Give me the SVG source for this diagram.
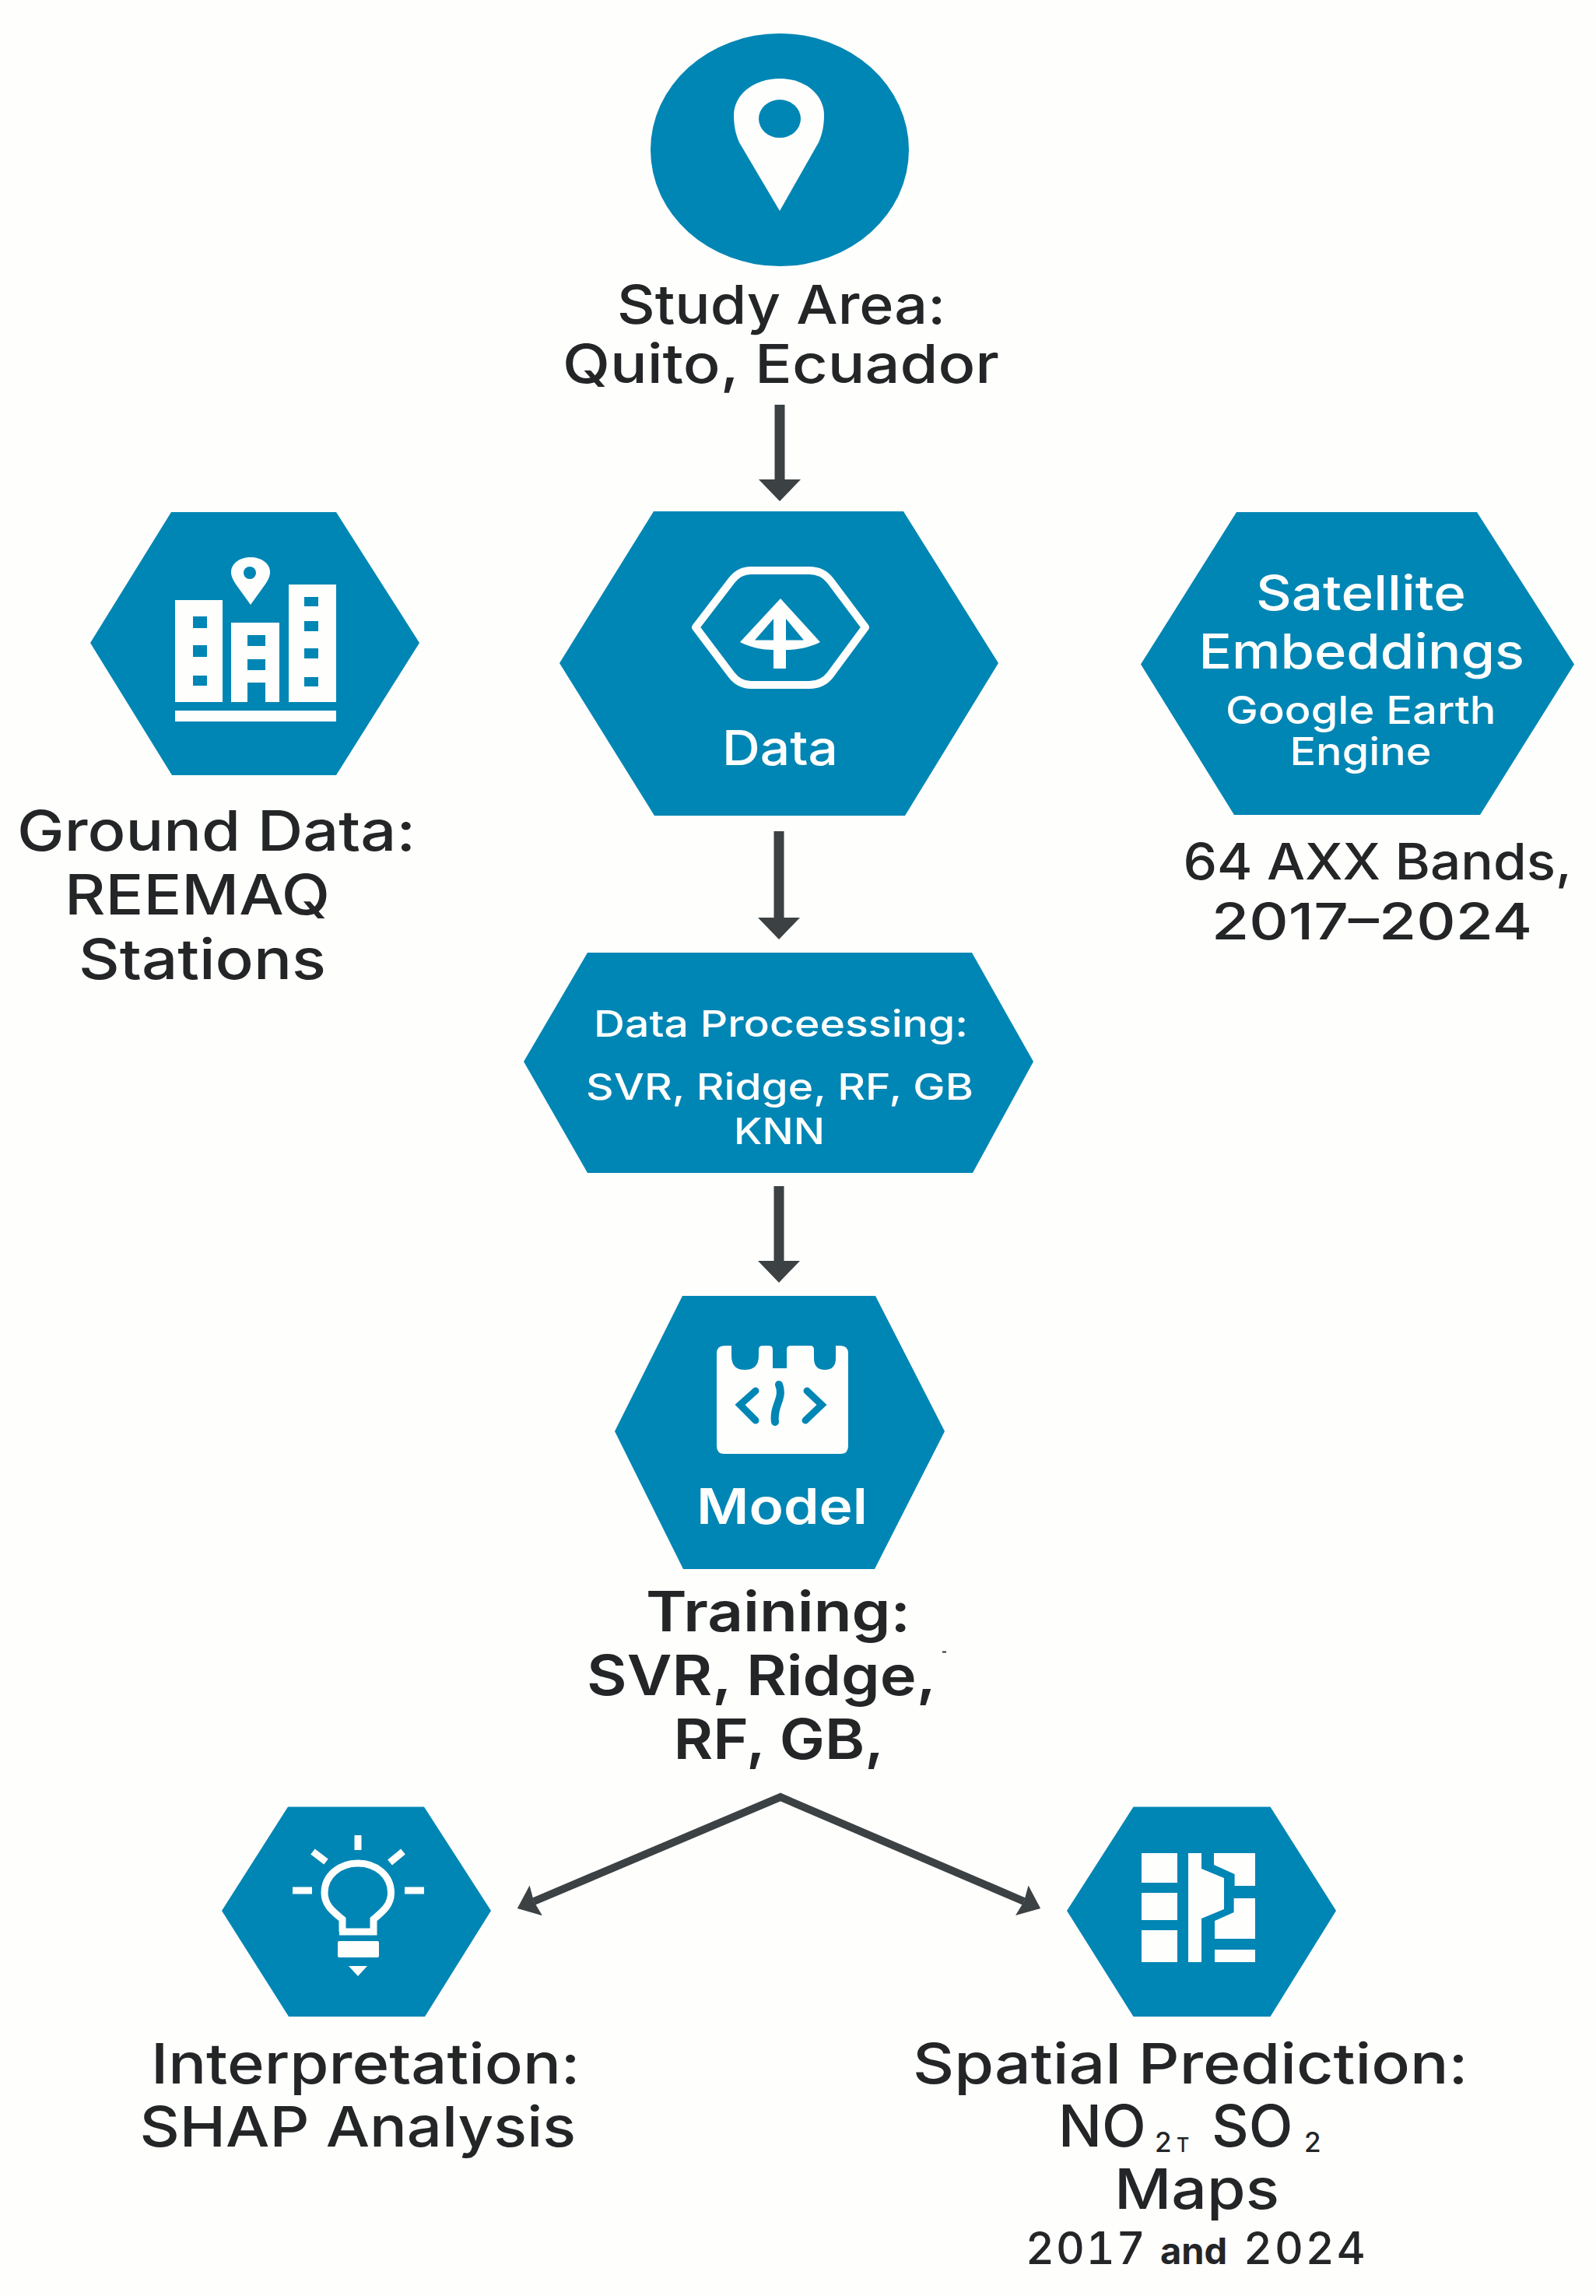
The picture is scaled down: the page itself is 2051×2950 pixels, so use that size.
<svg xmlns="http://www.w3.org/2000/svg" width="2051" height="2950" viewBox="0 0 2051 2950">
<style>
.h{fill:#0086b4}
.w{fill:#fefefd}
.ws{fill:none;stroke:#fefefd}
.bs{fill:none;stroke:#0086b4}
.t{font-family:Inter,"Liberation Sans",sans-serif;font-weight:545;fill:#232526}
.l{font-family:Inter,"Liberation Sans",sans-serif;font-weight:545;fill:#fefefd}
.b{font-weight:610}
.c{fill:none;stroke:#3c4143}
</style>
<defs>
<marker id="down" markerUnits="userSpaceOnUse" markerWidth="28" markerHeight="54" viewBox="0 0 28 54" refX="0" refY="27" orient="auto"><path d="M0 0L28 27L0 54Z" fill="#3c4143"/></marker>
<marker id="notch" markerUnits="userSpaceOnUse" markerWidth="27" markerHeight="42" viewBox="0 0 27 42" refX="3" refY="21" orient="auto-start-reverse"><path d="M0 0L26 21L0 42L3 21Z" fill="#3c4143"/></marker>
</defs>
<rect width="2051" height="2950" fill="#fefefd"/>
<g id="connectors">
<path class="c" stroke-width="13" d="M1002 520V616" marker-end="url(#down)"/>
<path class="c" stroke-width="13" d="M1001 1068V1179" marker-end="url(#down)"/>
<path class="c" stroke-width="13" d="M1001 1524V1620" marker-end="url(#down)"/>
<path class="c" stroke-width="10" d="M686 2443L1003 2309L1316 2443" marker-start="url(#notch)" marker-end="url(#notch)"/>
</g>
<g id="study-area">
<ellipse class="h" cx="1002" cy="192.5" rx="166" ry="149.5"/>
<path class="w" d="M1002 271L950 183C945 172 943 160 943 148C943 122 968 101 1002 101C1035 101 1059 122 1059 148C1059 160 1057 172 1052 183Z"/>
<ellipse class="h" cx="1002" cy="152.6" rx="27" ry="24.5"/>
<text class="t" font-size="69" x="793" y="416" textLength="422" lengthAdjust="spacingAndGlyphs">Study Area:</text>
<text class="t" font-size="69" x="723" y="492" textLength="561" lengthAdjust="spacingAndGlyphs">Quito, Ecuador</text>
</g>
<g id="ground-data">
<polygon class="h" points="220,658 432,658 539,826 432,996 221,996 116,826"/>
<path class="w" d="M225 771H286V902H225ZM297 800H359V902H341V877H318V902H297ZM371 751H432V902H371ZM225 913H432V927H225Z"/>
<path class="h" d="M248 792h18v15h-18zM248 829h18v15h-18zM248 868h18v13h-18zM318 816h23v14h-23zM318 847h23v14h-23zM391 767h18v12h-18zM391 798h18v13h-18zM391 833h18v13h-18zM391 870h18v12h-18z"/>
<path class="w" d="M322 777L304 752C299 745 297 740 297 735C297 724 308 716 322 716C336 716 347 724 347 735C347 740 345 745 340 752Z"/>
<circle class="h" cx="321" cy="736" r="8"/>
<text class="t" font-size="72" x="22" y="1093" textLength="512" lengthAdjust="spacingAndGlyphs">Ground Data:</text>
<text class="t" font-size="72" x="83" y="1175" textLength="341" lengthAdjust="spacingAndGlyphs">REEMAQ</text>
<text class="t" font-size="72" x="101" y="1258" textLength="318" lengthAdjust="spacingAndGlyphs">Stations</text>
</g>
<g id="data">
<polygon class="h" points="840,657 1161,657 1283,852 1163,1048 841,1048 719,852"/>
<path class="ws" stroke-width="10" stroke-linejoin="round" d="M894 806L940 746Q950 733 965 733H1040Q1057 733 1067 746L1112 806L1067 867Q1057 880 1040 880H965Q950 880 940 867Z"/>
<path class="w" d="M1003 769L1054 825C1040 832 1025 835 1010 835V859H994V835C980 835 965 832 951 825Z"/>
<path class="h" d="M994 795V822.5H970ZM1010 795V822.5H1033Z"/>
<text class="l" font-size="62" x="928" y="983" textLength="149" lengthAdjust="spacingAndGlyphs">Data</text>
</g>
<g id="satellite">
<polygon class="h" points="1589,658 1898,658 2023,853.5 1902,1047 1586,1047 1466,853.5"/>
<text class="l" font-size="62" x="1614" y="784" textLength="270" lengthAdjust="spacingAndGlyphs">Satellite</text>
<text class="l" font-size="62" x="1540.5" y="859" textLength="418.5" lengthAdjust="spacingAndGlyphs">Embeddings</text>
<text class="l" font-size="50" x="1575" y="930" textLength="347.5" lengthAdjust="spacingAndGlyphs">Google Earth</text>
<text class="l" font-size="50" x="1657.5" y="983" textLength="182" lengthAdjust="spacingAndGlyphs">Engine</text>
<text class="t" font-size="65" x="1520.5" y="1130" textLength="499.5" lengthAdjust="spacingAndGlyphs">64 AXX Bands,</text>
<text class="t" font-size="65" x="1557" y="1207" textLength="412" lengthAdjust="spacingAndGlyphs">2017–2024</text>
</g>
<g id="data-processing">
<polygon class="h" points="755,1224 1249,1224 1328,1364 1250,1507 755,1507 673,1364"/>
<text class="l" font-size="47" x="763" y="1332" textLength="481" lengthAdjust="spacingAndGlyphs">Data Proceessing:</text>
<text class="l" font-size="47" x="753" y="1413" textLength="498" lengthAdjust="spacingAndGlyphs">SVR, Ridge, RF, GB</text>
<text class="l" font-size="47" x="943" y="1469.5" textLength="117" lengthAdjust="spacingAndGlyphs">KNN</text>
</g>
<g id="model">
<polygon class="h" points="877,1665 1125,1665 1214,1839 1124,2016 878,2016 790,1839"/>
<path class="w" d="M931 1729H940V1742Q940 1760 957 1760Q975 1760 975 1742V1734Q975 1729 980 1729H988Q993 1729 993 1734V1758H1011V1734Q1011 1729 1016 1729H1041Q1046 1729 1046 1734V1745Q1046 1760 1060 1760Q1074 1760 1074 1745V1729H1080Q1090 1729 1090 1739V1858Q1090 1868 1080 1868H931Q921 1868 921 1858V1739Q921 1729 931 1729Z"/>
<path class="bs" stroke-width="9" stroke-linecap="round" d="M971 1787L951 1805L971 1825M1037 1787L1056 1805L1035 1825"/>
<path class="bs" stroke-width="10" stroke-linecap="round" d="M1001 1779C1008 1797 993 1806 996 1827"/>
<text class="l b" font-size="63" x="895" y="1958" textLength="220" lengthAdjust="spacingAndGlyphs">Model</text>
<text class="t b" font-size="71" x="830" y="2096" textLength="340" lengthAdjust="spacingAndGlyphs">Training:</text>
<text class="t b" font-size="71" x="754" y="2178" textLength="449" lengthAdjust="spacingAndGlyphs">SVR, Ridge,</text>
<text class="t b" font-size="71" x="865.5" y="2260" textLength="270.5" lengthAdjust="spacingAndGlyphs">RF, GB,</text>
<rect x="1211" y="2121.5" width="5" height="2" fill="#333"/>
</g>
<g id="interpretation">
<polygon class="h" points="370,2321.5 545,2321.5 631,2455 546,2591 371,2591 285,2455"/>
<path class="ws" stroke-width="9" d="M440 2482V2466C428 2456 417 2448 417 2432C417 2410 436 2394 460 2394C484 2394 502.5 2410 502.5 2432C502.5 2448 492 2456 480 2466V2482H436M460 2358V2377M402 2379L419 2392M518 2379L501 2393M376 2429H401M520 2429H545"/>
<rect class="w" x="434" y="2494" width="53" height="21" rx="2"/>
<polygon class="w" points="448,2526 472,2526 460,2539"/>
<text class="t" font-size="72" x="194" y="2676.6" textLength="551.5" lengthAdjust="spacingAndGlyphs">Interpretation:</text>
<text class="t" font-size="72" x="179.5" y="2758" textLength="560.5" lengthAdjust="spacingAndGlyphs">SHAP Analysis</text>
</g>
<g id="spatial-prediction">
<polygon class="h" points="1456.5,2321.5 1632.5,2321.5 1717,2455 1632.5,2591 1456.5,2591 1371,2455"/>
<path class="w" d="M1467 2381h46v38h-46zM1467 2432h46v35h-46zM1467 2480h46v41h-46zM1527 2381H1544V2401L1573 2413V2453L1544 2465V2521H1527ZM1560 2381H1613V2423H1586.6V2408L1560 2396ZM1585.6 2439H1613V2491H1561V2468L1585.6 2457ZM1561 2505H1613V2521H1561Z"/>
<text class="t" font-size="72" x="1173" y="2676.6" textLength="713.5" lengthAdjust="spacingAndGlyphs">Spatial Prediction:</text>
<text class="t" font-size="74" y="2758"><tspan x="1360">NO</tspan><tspan x="1484" y="2765" font-size="35">2</tspan><tspan x="1512" y="2765" font-size="25">T</tspan><tspan x="1557" y="2758">SO</tspan><tspan x="1676" y="2765" font-size="35">2</tspan></text>
<text class="t" font-size="72" x="1432" y="2838" textLength="212" lengthAdjust="spacingAndGlyphs">Maps</text>
<text class="t" font-size="57" y="2909" style="font-feature-settings:'tnum';letter-spacing:2px"><tspan x="1318">2017</tspan><tspan x="1491" font-size="47" style="font-weight:700;letter-spacing:0;font-feature-settings:normal">and</tspan><tspan x="1598" style="letter-spacing:3px">2024</tspan></text>
</g>
</svg>
